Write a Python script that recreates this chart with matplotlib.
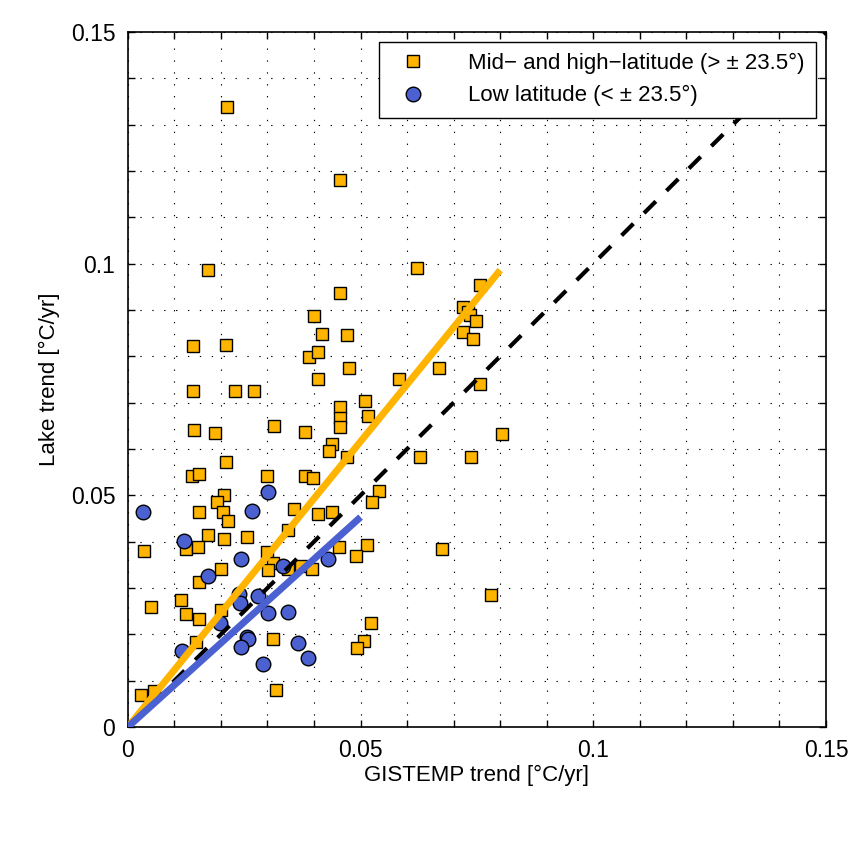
import numpy as np
import matplotlib
matplotlib.use("Agg")
import matplotlib.pyplot as plt
from matplotlib.ticker import MultipleLocator, FuncFormatter

plt.rcParams['font.family'] = ['Liberation Sans', 'DejaVu Sans']

# mid- and high-latitude lakes (GISTEMP trend, lake trend)
mid_x = [0.0213, 0.0456, 0.0172, 0.0621, 0.0757, 0.0400, 0.0456, 0.0418, 0.0470, 0.0139,
         0.0211, 0.0390, 0.0408, 0.0475, 0.0408, 0.0139, 0.0231, 0.0271, 0.0582, 0.0669,
         0.0719, 0.0731, 0.0735, 0.0748, 0.0721, 0.0741, 0.0757, 0.0510, 0.0517, 0.0456,
         0.0456, 0.0456, 0.0142, 0.0187, 0.0314, 0.0381, 0.0803, 0.0438, 0.0433, 0.0470,
         0.0628, 0.0737, 0.0211, 0.0137, 0.0153, 0.0299, 0.0380, 0.0398, 0.0206, 0.0192,
         0.0205, 0.0216, 0.0152, 0.0357, 0.0408, 0.0438, 0.0540, 0.0525, 0.0343, 0.0172,
         0.0207, 0.0256, 0.0034, 0.0125, 0.0151, 0.0299, 0.0453, 0.0514, 0.0490, 0.0312,
         0.0302, 0.0345, 0.0373, 0.0396, 0.0201, 0.0153, 0.0115, 0.0049, 0.0125, 0.0152,
         0.0201, 0.0146, 0.0311, 0.0522, 0.0508, 0.0493, 0.0028, 0.0057, 0.0318, 0.0674,
         0.0781]
mid_y = [0.1338, 0.1180, 0.0986, 0.0990, 0.0954, 0.0886, 0.0937, 0.0848, 0.0846, 0.0822,
         0.0824, 0.0799, 0.0809, 0.0774, 0.0752, 0.0726, 0.0726, 0.0726, 0.0752, 0.0774,
         0.0907, 0.0896, 0.0889, 0.0876, 0.0852, 0.0837, 0.0740, 0.0704, 0.0672, 0.0690,
         0.0666, 0.0647, 0.0640, 0.0634, 0.0650, 0.0636, 0.0632, 0.0611, 0.0595, 0.0583,
         0.0583, 0.0582, 0.0572, 0.0542, 0.0546, 0.0542, 0.0542, 0.0537, 0.0501, 0.0485,
         0.0465, 0.0445, 0.0463, 0.0470, 0.0459, 0.0463, 0.0509, 0.0485, 0.0426, 0.0414,
         0.0405, 0.0409, 0.0380, 0.0384, 0.0389, 0.0377, 0.0388, 0.0392, 0.0370, 0.0353,
         0.0339, 0.0342, 0.0347, 0.0342, 0.0340, 0.0312, 0.0275, 0.0258, 0.0244, 0.0233,
         0.0253, 0.0184, 0.0190, 0.0225, 0.0186, 0.0170, 0.0068, 0.0078, 0.0080, 0.0384,
         0.0285]

# low-latitude lakes
low_x = [0.0033, 0.0302, 0.0267, 0.0120, 0.0242, 0.0334, 0.0429, 0.0173, 0.0239, 0.0241,
         0.0279, 0.0302, 0.0345, 0.0198, 0.0256, 0.0259, 0.0242, 0.0366, 0.0388, 0.0291,
         0.0117]
low_y = [0.0465, 0.0507, 0.0467, 0.0402, 0.0363, 0.0347, 0.0363, 0.0326, 0.0287, 0.0267,
         0.0283, 0.0245, 0.0248, 0.0224, 0.0195, 0.0189, 0.0173, 0.0181, 0.0148, 0.0136,
         0.0164]

# fit lines (through origin) and 1:1 line
mid_fit_x = [0, 0.08]
mid_fit_y = [0, 0.0986]
low_fit_x = [0, 0.05]
low_fit_y = [0, 0.0453]
one_to_one = [0, 0.15]

orange = '#FFB400'
blue = '#4B61D1'

fig = plt.figure(figsize=(8.64, 8.48), dpi=100)
ax = fig.add_axes([0.148, 0.1427, 0.808, 0.8196])

ax.plot(mid_x, mid_y, 's', ms=8.8, mfc=orange, mec='black', mew=1.0,
        ls='none', label='Mid\u2212 and high\u2212latitude (> \u00b1 23.5\u00b0)', zorder=3)
ax.plot(low_x, low_y, 'o', ms=10.5, mfc=blue, mec='black', mew=1.0,
        ls='none', label='Low latitude (< \u00b1 23.5\u00b0)', zorder=3)

ax.plot(one_to_one, one_to_one, '--', color='black', lw=3, dashes=(4, 3.6), zorder=4)
ax.plot(mid_fit_x, mid_fit_y, '-', color=orange, lw=5, solid_capstyle='butt', zorder=5)
ax.plot(low_fit_x, low_fit_y, '-', color=blue, lw=5, solid_capstyle='butt', zorder=6)

ax.set_xlim(0, 0.15)
ax.set_ylim(0, 0.15)
ax.xaxis.set_major_locator(MultipleLocator(0.05))
ax.yaxis.set_major_locator(MultipleLocator(0.05))
ax.xaxis.set_minor_locator(MultipleLocator(0.01))
ax.yaxis.set_minor_locator(MultipleLocator(0.01))
fmt = FuncFormatter(lambda v, p: '%g' % round(v, 4))
ax.xaxis.set_major_formatter(fmt)
ax.yaxis.set_major_formatter(fmt)
ax.tick_params(which='both', direction='in', top=True, right=True, length=5, width=1,
               labelsize=16.5, pad=9)
ax.grid(which='both', color='black', ls=(0, (1.2, 9.5)), lw=0.8)
ax.set_axisbelow(True)
for s in ax.spines.values():
    s.set_linewidth(1.2)

ax.set_xlabel('GISTEMP trend [\u00b0C/yr]', fontsize=16, labelpad=2)
ax.set_ylabel('Lake trend [\u00b0C/yr]', fontsize=16, labelpad=8)

leg = ax.legend(loc='upper right', fontsize=16, frameon=True, fancybox=False,
                framealpha=1, edgecolor='black', borderaxespad=0.45, handletextpad=1.5,
                borderpad=0.5, labelspacing=0.5)
leg.get_frame().set_linewidth(1.0)

fig.savefig('out.png', dpi=100)
